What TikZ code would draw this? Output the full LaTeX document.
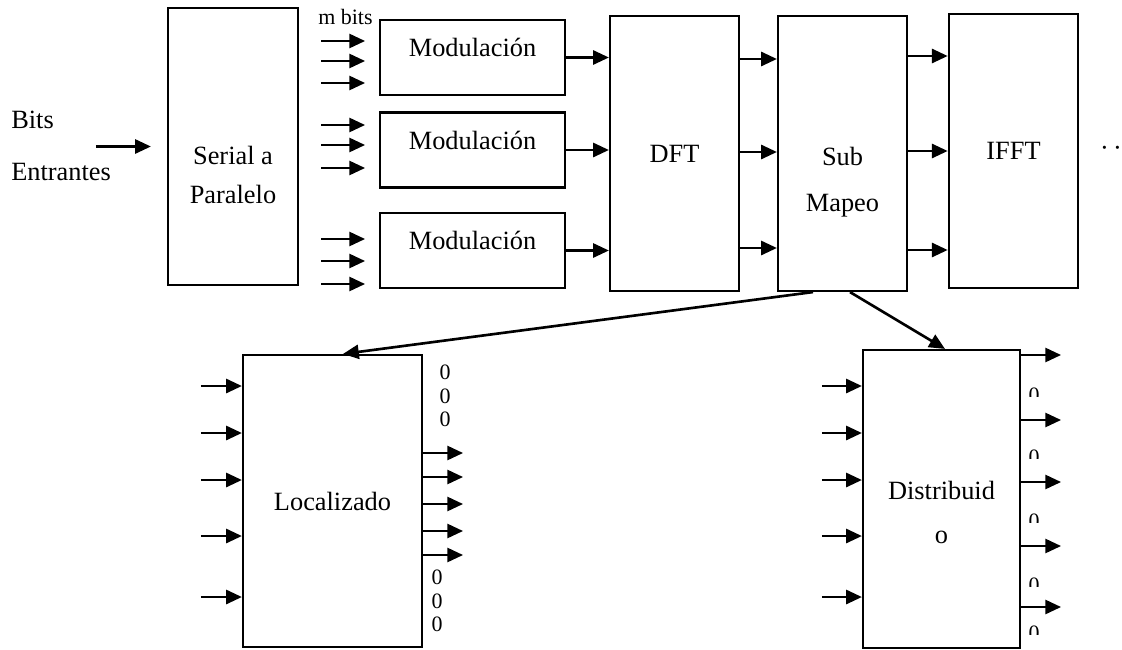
\documentclass[tikz,border=0pt]{standalone}
\usepackage{fontspec}
\setmainfont{Liberation Serif}
\usetikzlibrary{arrows.meta,calc}

\begin{document}
\begin{tikzpicture}[x=0.02cm, y=-0.02cm, font=\fontsize{15}{18}\selectfont,
  >={Triangle[length=9pt,width=8pt]}, line width=1.5pt,
  blk/.style={draw, line width=1.25pt, inner sep=0pt, align=center},
  txt2/.style={align=center, font=\fontsize{15}{#1}\selectfont},
  zero/.style={font=\fontsize{12.5}{13.3}\selectfont, inner sep=0pt, align=center}]
\useasboundingbox (0,0) rectangle (1122,649);

\node[align=left, anchor=west, inner sep=0pt, font=\fontsize{15}{29.5}\selectfont] (bits) at (10,146) {Bits\\Entrantes};
\node[blk, minimum width=2.6cm, minimum height=5.54cm,
      label={[txt2=22.7, yshift=-0.57cm]center:Serial a\\Paralelo}] (serial) at (233,146.5) {};
\node[anchor=base west, inner sep=0pt, font=\fontsize{12.5}{14}\selectfont] (mbits) at (317,25) {m bits};
\foreach \y [count=\i] in {57.5,150,250.5}
  \node[blk, minimum width=3.7cm, minimum height=1.5cm,
        label={[yshift=0.2cm]center:Modulación}] (mod\i) at (472.5,\y) {};
\node[blk, minimum width=2.58cm, minimum height=5.5cm] (dft) at (674.5,153.5) {DFT};
\node[blk, minimum width=2.58cm, minimum height=5.5cm,
      label={[txt2=26, yshift=-0.57cm]center:Sub\\Mapeo}] (sub) at (842.5,153.5) {};
\node[blk, line width=1.5pt, minimum width=2.58cm, minimum height=5.48cm] (ifft) at (1013.5,151) {IFFT};
\node[inner sep=0pt] (dots) at (1111,151) {·\,·};
\node[blk, minimum width=3.58cm, minimum height=5.84cm] (loc) at (332.5,501) {Localizado};
\node[blk, minimum width=3.14cm, minimum height=5.96cm,
      label={[txt2=25.5, yshift=-0.27cm]center:Distribuid\\o}] (dist) at (941.5,499) {};
\node[zero] (ztop) at (445,396) {0\\0\\0};
\node[zero] (zbot) at (437,601) {0\\0\\0};
\foreach \y [count=\i] in {387,449,513,577,625} {
  \begin{scope}
    \clip (1024,\y-2) rectangle (1046,\y+9);
    \node[zero, anchor=north] (z\i) at (1034,\y) {0};
  \end{scope}
}

\draw[->] ([xshift=-1.42cm]serial.west) -- ([xshift=-0.32cm]serial.west);
\foreach \y in {41,61,83,125,145,168,239,261,284}
  \draw[->] ($(serial.east |- 0,\y)+(22,0)$) -- ++(44,0);
\foreach \i in {1,2,3}
  \draw[->] (mod\i.east) -- (mod\i.east -| dft.west);
\foreach \y in {59,152,248}
  \draw[->] (dft.east |- 0,\y) -- (sub.west |- 0,\y);
\foreach \y in {56,151,250}
  \draw[->] (sub.east |- 0,\y) -- (ifft.west |- 0,\y);
\draw[->] ([xshift=-0.59cm]sub.south) -- ([xshift=0.21cm]loc.north);
\draw[->] ([xshift=0.15cm]sub.south) -- ([xshift=0.07cm]dist.north);
\foreach \y in {386,433,480,536,597} {
  \draw[->] ($(loc.west |- 0,\y)+(-41,0)$) -- (loc.west |- 0,\y);
  \draw[->] ($(dist.west |- 0,\y)+(-40,0)$) -- (dist.west |- 0,\y);
}
\foreach \y in {453,477,504,531,555}
  \draw[->] (loc.east |- 0,\y) -- ++(40,0);
\foreach \y in {355,420,482,546,607}
  \draw[->] (dist.east |- 0,\y) -- ++(40,0);
\end{tikzpicture}
\end{document}
